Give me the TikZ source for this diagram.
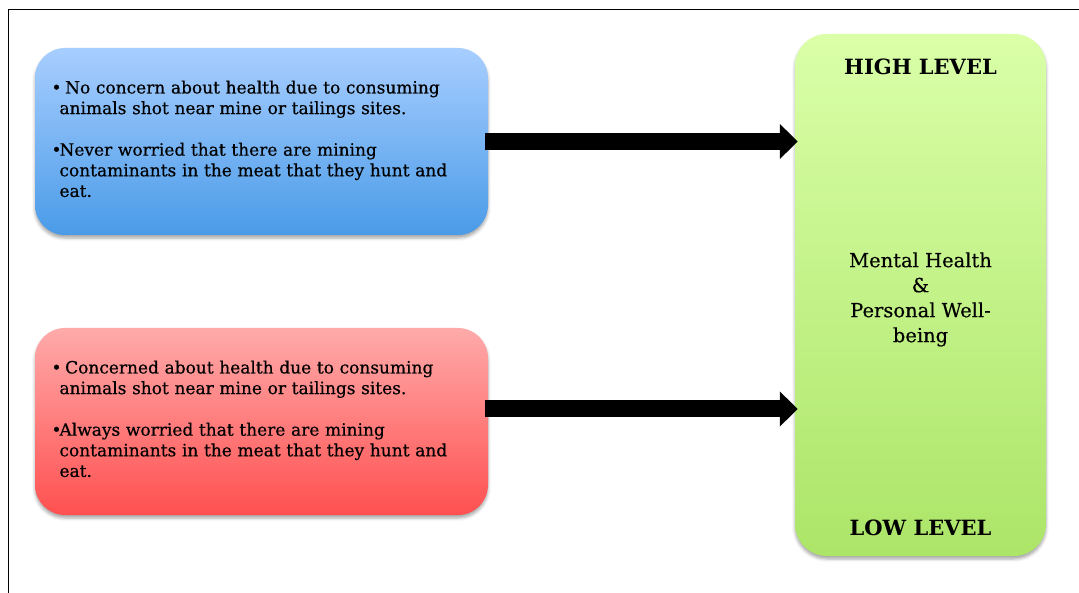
\documentclass[tikz,border=0pt]{standalone}
\usepackage{fontspec}
\setmainfont{DejaVu Serif}
\usetikzlibrary{arrows.meta,shadows.blur,calc}

\definecolor{bluetop}{HTML}{A8CEFF}
\definecolor{bluebot}{HTML}{4A9BE8}
\definecolor{redtop}{HTML}{FFAAAA}
\definecolor{redbot}{HTML}{FF5050}
\definecolor{greentop}{HTML}{DAFFA8}
\definecolor{greenbot}{HTML}{ACE568}

\begin{document}
\begin{tikzpicture}[x=1pt,y=-1pt,
  sh/.style={blur shadow={shadow xshift=0pt, shadow yshift=-3pt, shadow opacity=35, shadow blur radius=3pt}},
  box/.style={sh, rounded corners=30pt, minimum width=453pt, minimum height=187pt,
    text width=420pt, inner xsep=16.5pt, inner ysep=0pt, align=left,
    text height=8pt, text depth=104pt,
    font=\fontsize{17}{20.6}\selectfont\addfontfeature{FakeBold=0.5}},
  bluebox/.style={box, top color=bluetop, bottom color=bluebot},
  redbox/.style={box, top color=redtop, bottom color=redbot},
  greenbox/.style={sh, rounded corners=32pt, minimum width=251pt, minimum height=522pt,
    top color=greentop, bottom color=greenbot},
  lvl/.style={font=\fontsize{21}{25}\bfseries\selectfont, inner sep=0pt},
  bigarrow/.style={black, line width=17pt, -{Triangle[length=18pt,width=34pt]}},
  frame/.style={black, line width=1.8pt}
]
\useasboundingbox (0,0) rectangle (1079,593);

% frame
\coordinate (fa) at (8.5,593);
\coordinate (fb) at (8.5,9.5);
\coordinate (fc) at (1079,9.5);
\draw[frame] (fa) -- (fb) -- (fc);

% boxes
\node[bluebox] (blue) at (261.5,141.5) {%
\makebox[8pt][l]{\textbullet}\ No concern about health due to consuming\\
\hspace*{8pt}animals shot near mine or tailings sites.\\[21pt]
\makebox[8pt][l]{\textbullet}Never worried that there are mining\\
\hspace*{8pt}contaminants in the meat that they hunt and\\
\hspace*{8pt}eat.};

\node[redbox] (red) at (261.5,421.5) {%
\makebox[8pt][l]{\textbullet}\ Concerned about health due to consuming\\
\hspace*{8pt}animals shot near mine or tailings sites.\\[21pt]
\makebox[8pt][l]{\textbullet}Always worried that there are mining\\
\hspace*{8pt}contaminants in the meat that they hunt and\\
\hspace*{8pt}eat.};

\node[greenbox] (green) at (920.5,295) {};
\node[lvl, anchor=base] (high) at ($(green.north)+(0,41)$) {HIGH LEVEL};
\node[lvl, anchor=base] (low) at ($(green.south)+(0,-21)$) {LOW LEVEL};
\node[anchor=north, inner sep=0pt, align=center,
  font=\fontsize{19.5}{25}\selectfont\addfontfeature{FakeBold=0.3}]
  (wb) at ($(green.center)+(0,-42.8)$) {Mental Health\\\&\\Personal Well-\\being};

% arrows
\coordinate (a1s) at ($(blue.east)+(-3,0)$);
\coordinate (a2s) at ($(red.east)+(-3,-12.5)$);
\draw[bigarrow] (a1s) -- ([xshift=3pt]green.west |- a1s);
\draw[bigarrow] (a2s) -- ([xshift=3pt]green.west |- a2s);
\end{tikzpicture}
\end{document}
